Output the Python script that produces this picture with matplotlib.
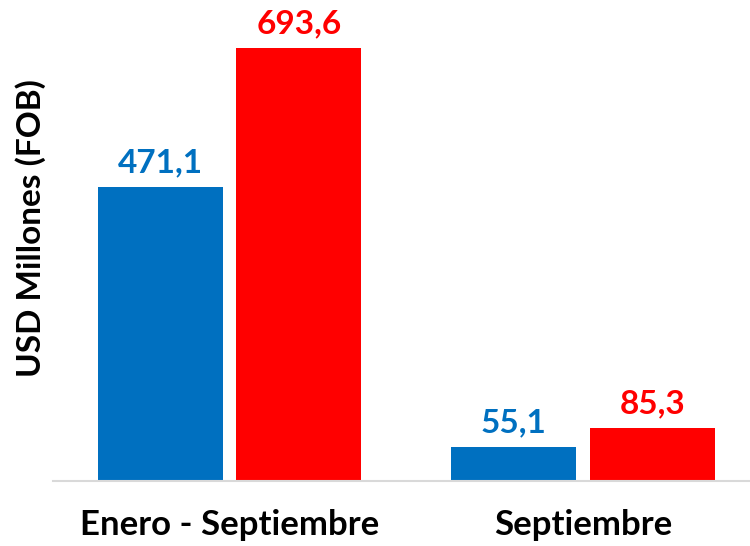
import numpy as np
import matplotlib.pyplot as plt

# datos
categorias = ['Enero - Septiembre', 'Septiembre']
serie_a = [471.1, 55.1]
serie_b = [693.6, 85.3]
etiquetas_a = ['471,1', '55,1']
etiquetas_b = ['693,6', '85,3']

azul = '#0070C0'
rojo = '#FF0000'

plt.rcParams['font.family'] = ['Lato', 'DejaVu Sans']

fig = plt.figure(figsize=(7.5, 5.46), dpi=100)
ax = fig.add_axes([0.0707, 0.119, 0.9293, 0.881])

x = np.arange(len(categorias))
w = 0.353
off = 0.196
b1 = ax.bar(x - off, serie_a, w, color=azul)
b2 = ax.bar(x + off, serie_b, w, color=rojo)

for rect, lab in zip(b1, etiquetas_a):
	ax.annotate(lab, (rect.get_x() + rect.get_width()/2, rect.get_height()),
		xytext=(0, 7), textcoords='offset points', ha='center', va='bottom',
		color=azul, fontsize=24, fontweight='bold')
for rect, lab in zip(b2, etiquetas_b):
	ax.annotate(lab, (rect.get_x() + rect.get_width()/2, rect.get_height()),
		xytext=(0, 7), textcoords='offset points', ha='center', va='bottom',
		color=rojo, fontsize=24, fontweight='bold')

ax.set_xlim(-0.499, 1.472)
ax.set_ylim(0, 770)
ax.set_xticks(x)
ax.set_xticklabels(categorias, fontsize=25, fontweight='bold')
ax.tick_params(axis='x', length=0, pad=20)
ax.set_yticks([])
for s in ['top', 'right', 'left']:
	ax.spines[s].set_visible(False)
ax.spines['bottom'].set_color('#D9D9D9')
ax.spines['bottom'].set_linewidth(1.5)
ax.set_ylabel('USD Millones (FOB)', fontsize=24, fontweight='bold')
ax.yaxis.set_label_coords(-0.01, 0.525)

fig.savefig('out.png', dpi=100)
